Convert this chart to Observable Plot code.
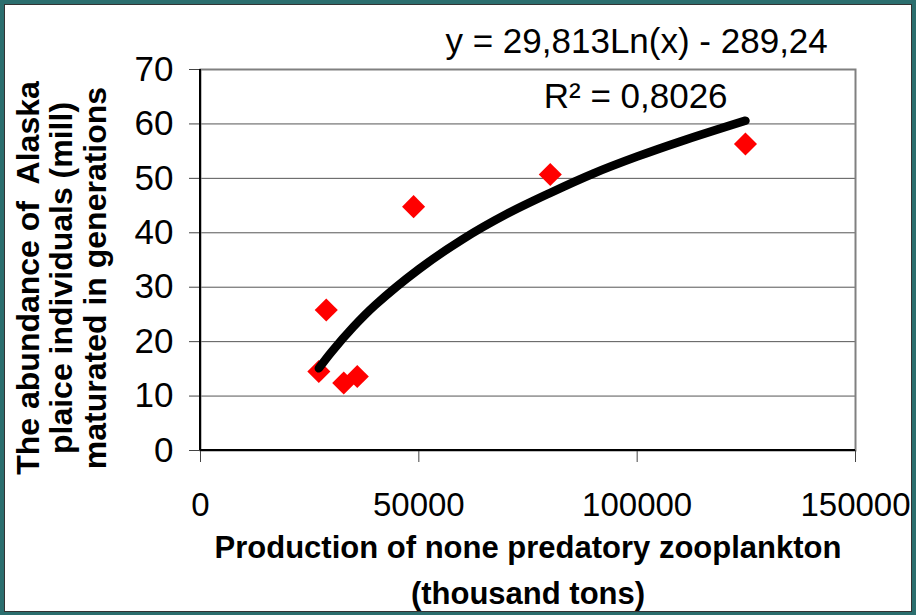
<!DOCTYPE html>
<html>
<head>
<meta charset="utf-8">
<script src="https://cdn.jsdelivr.net/npm/d3@7"></script>
<script src="https://cdn.jsdelivr.net/npm/@observablehq/plot@0.6"></script>
<style>
  html, body { margin: 0; padding: 0; }
  body { background: #2b6e6e; width: 916px; height: 615px; overflow: hidden; }
  #wrap { position: relative; width: 916px; height: 615px; }
  #panel { position: absolute; left: 4px; top: 4px; width: 908px; height: 608px; box-sizing: border-box; background: #fff; border: 1px solid #333; }
  #chart { position: absolute; left: 0; top: 0; }
</style>
</head>
<body>
<div id="wrap"><div id="panel"></div><div id="chart"></div></div>
<script>
// Observed data (production, thousand tons; abundance, mill)
const xValues = [27100, 28800, 32800, 35900, 48800, 80100, 124800];
const yValues = [14.5, 25.8, 12.4, 13.6, 44.8, 50.7, 56.3];

// Logarithmic trend line
const trendX = [27100, 30000, 35000, 40000, 50000, 60000, 70000, 80000, 90000, 100000, 110000, 124800];
const trendY = [15.1, 18.1, 22.7, 26.7, 33.3, 38.8, 43.4, 47.3, 50.9, 54.0, 56.8, 60.6];

const xTicks = [0, 50000, 100000, 150000];
const yTicks = [0, 10, 20, 30, 40, 50, 60, 70];
const gridTicks = [10, 20, 30, 40, 50, 60];

const eqText = "y = 29,813Ln(x) - 289,24";
const r2Text = "R² = 0,8026";
const labelX = [56100, 78600];
const labelY = [75.0, 64.9];

const xTitle = "Production of none predatory zooplankton\n(thousand tons)";
const yTitle = "The abundance of  Alaska\nplaice individuals (mill)\nmaturated in generations";

const points = xValues.map((x, i) => ({x, y: yValues[i]}));
const trend = trendX.map((x, i) => ({x, y: trendY[i]}));
const labels = [eqText, r2Text].map((t, i) => ({x: labelX[i], y: labelY[i], t}));

const chart = Plot.plot({
  width: 916,
  height: 615,
  marginLeft: 200,
  marginRight: 61,
  marginTop: 69,
  marginBottom: 165,
  style: {background: "transparent", fontFamily: "'Liberation Sans', Arial, sans-serif", color: "black"},
  x: {domain: [0, 150000]},
  y: {domain: [0, 70]},
  marks: [
    Plot.gridY(gridTicks, {stroke: "#555", strokeOpacity: 1, strokeWidth: 1}),
    Plot.frame({stroke: "#808080", strokeWidth: 2}),
    Plot.axisY({ticks: yTicks, tickSize: 11, tickPadding: 16, fontSize: 35, label: null, stroke: "#444"}),
    Plot.axisX({ticks: xTicks, tickSize: 12, tickPadding: 30, fontSize: 33, label: null, stroke: "#444", tickFormat: d => String(d)}),
    Plot.ruleX([0], {stroke: "black", strokeWidth: 2, dx: -0.5}),
    Plot.ruleY([0], {stroke: "black", strokeWidth: 2, dy: -0.5}),
    Plot.dot(points, {x: "x", y: "y", symbol: "diamond2", r: 10.4, fill: "#ff0000", stroke: "none"}),
    Plot.line(trend, {x: "x", y: "y", stroke: "black", strokeWidth: 8.5, curve: "catmull-rom", strokeLinecap: "round"}),
    Plot.text(labels, {x: "x", y: "y", text: "t", textAnchor: "start", lineAnchor: "middle", fontSize: 35, fill: "black"}),
    Plot.text([yTitle], {frameAnchor: "left", text: d => d, rotate: -90, dx: -139, dy: 18, fontSize: 32, fontWeight: "bold", lineHeight: 1.05, lineAnchor: "middle", textAnchor: "middle", fill: "black"}),
    Plot.text([xTitle], {frameAnchor: "bottom", text: d => d, dy: 74, fontSize: 31, fontWeight: "bold", lineHeight: 1.5, lineAnchor: "top", textAnchor: "middle", fill: "black"})
  ]
});
document.getElementById("chart").appendChild(chart);
</script>
</body>
</html>
